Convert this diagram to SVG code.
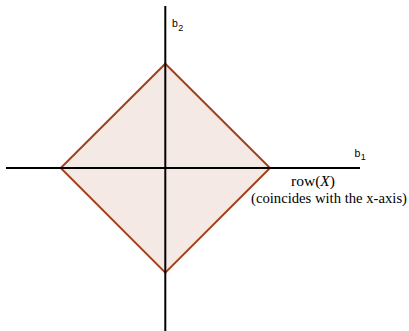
<svg xmlns="http://www.w3.org/2000/svg" width="409" height="331" viewBox="0 0 409 331">
<style>
.ax{stroke:#000;stroke-width:2;fill:none}
.sans{font-family:"Liberation Sans",Arial,sans-serif;font-size:10.5px;fill:#000}
.sub{font-size:9px}
.serif{font-family:"Liberation Serif","Times New Roman",serif;font-size:14px;fill:#000}
</style>
<rect width="409" height="331" fill="#fff"/>
<g id="diamond">
<polygon points="165.3,63.7 270,168 165.3,272.7 60.7,168" fill="#f4e9e4" stroke="#a3421a" stroke-width="2" stroke-linejoin="miter"/>
</g>
<g id="axes">
<line class="ax" x1="6" y1="168" x2="360" y2="168"/>
<line class="ax" x1="165.3" y1="6" x2="165.3" y2="331"/>
</g>
<g id="labels">
<text class="sans" x="172" y="27">b<tspan class="sub" dx="0.5" dy="4">2</tspan></text>
<text class="sans" x="354.5" y="157">b<tspan class="sub" dx="0.5" dy="2.5">1</tspan></text>
<text class="serif" x="291" y="186" textLength="44" lengthAdjust="spacingAndGlyphs">row(<tspan font-style="italic">X</tspan>)</text>
<text class="serif" x="251" y="203" textLength="156" lengthAdjust="spacingAndGlyphs">(coincides with the x-axis)</text>
</g>
</svg>
